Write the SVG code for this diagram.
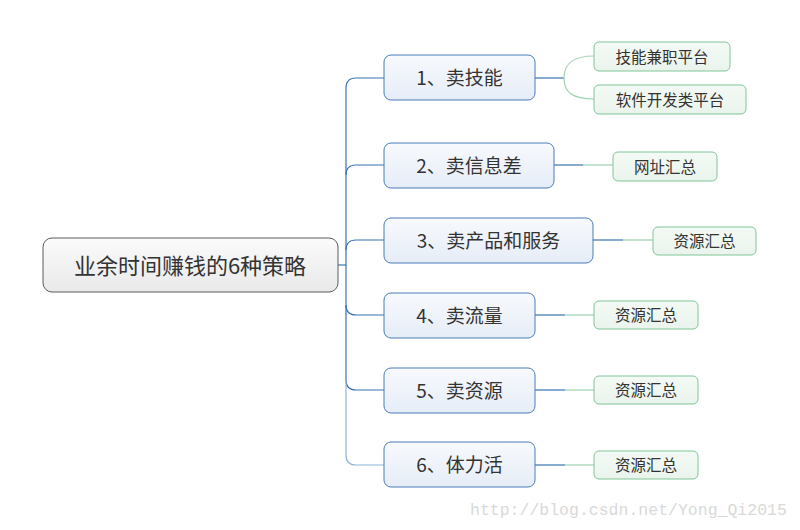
<svg xmlns="http://www.w3.org/2000/svg" width="800" height="530" viewBox="0 0 800 530">
<defs>
<linearGradient id="gRoot" x1="0" y1="0" x2="0" y2="1"><stop offset="0" stop-color="#fbfbfb"/><stop offset="1" stop-color="#e9e9e9"/></linearGradient>
<linearGradient id="gBr" x1="0" y1="0" x2="0" y2="1"><stop offset="0" stop-color="#f7f9fd"/><stop offset="1" stop-color="#e6edf7"/></linearGradient>
<linearGradient id="gLf" x1="0" y1="0" x2="0" y2="1"><stop offset="0" stop-color="#f4faf5"/><stop offset="1" stop-color="#e9f4ec"/></linearGradient>
</defs>
<style>
text{font-family:"Microsoft YaHei","Noto Sans CJK SC","Noto Sans",sans-serif;fill:#333;text-anchor:middle;dominant-baseline:central}
.root rect{fill:url(#gRoot);stroke:#5a5a5a;stroke-width:1}
.root text{font-size:22px}
.br rect{fill:url(#gBr);stroke:#4a7dba;stroke-width:1}
.br text{font-size:19px}
.lf rect{fill:url(#gLf);stroke:#80c597;stroke-width:1}
.lf text{font-size:15.5px}
.cb{fill:none;stroke:#3a73b3;stroke-width:1.2}
.cbl{fill:none;stroke:#8fb3db;stroke-width:1.2}
.cg{fill:none;stroke:#9fd2b0;stroke-width:1.2}
.wm{font-family:"Liberation Mono","DejaVu Sans Mono",monospace;font-size:16.5px;fill:#d9d9d9;text-anchor:start;dominant-baseline:alphabetic}
</style>
<g id="connectors">
<path class="cb" d="M338,265 H346"/>
<path class="cb" d="M346,265 V88 Q346,78 356,78 H384"/>
<path class="cb" d="M346,175 Q346,165 356,165 H384"/>
<path class="cb" d="M346,250 Q346,240 356,240 H384"/>
<path class="cb" d="M346,265 V305 Q346,315 356,315 H384"/>
<path class="cb" d="M346,305 V380 Q346,390 356,390 H384"/>
<path class="cbl" d="M346,380 V455 Q346,465 356,465 H384"/>
<path class="cb" d="M535,78 H564"/>
<path class="cg" d="M564,78 C564,64 572,56 594,56"/>
<path class="cg" d="M564,78 C564,92 572,99 594,99"/>
<path class="cb" d="M554,165 H583"/><path class="cg" d="M583,165 H613"/>
<path class="cb" d="M593,240 H623"/><path class="cg" d="M623,240 H653"/>
<path class="cb" d="M535,315 H565"/><path class="cg" d="M565,315 H594"/>
<path class="cb" d="M535,390 H565"/><path class="cg" d="M565,390 H594"/>
<path class="cb" d="M535,465 H565"/><path class="cg" d="M565,465 H594"/>
</g>
<g id="root" class="root"><rect x="43" y="238" width="295" height="54" rx="9"/><text x="190" y="264">业余时间赚钱的6种策略</text></g>
<g id="b1" class="br"><rect x="384" y="55" width="151" height="45" rx="7"/><text x="459.5" y="76.5">1、卖技能</text></g>
<g id="b2" class="br"><rect x="384" y="143" width="170" height="45" rx="7"/><text x="469" y="164.5">2、卖信息差</text></g>
<g id="b3" class="br"><rect x="384" y="218" width="209" height="45" rx="7"/><text x="488.5" y="239.5">3、卖产品和服务</text></g>
<g id="b4" class="br"><rect x="384" y="293" width="151" height="45" rx="7"/><text x="459.5" y="314.5">4、卖流量</text></g>
<g id="b5" class="br"><rect x="384" y="368" width="151" height="45" rx="7"/><text x="459.5" y="389.5">5、卖资源</text></g>
<g id="b6" class="br"><rect x="384" y="442" width="151" height="45" rx="7"/><text x="459.5" y="463.5">6、体力活</text></g>
<g id="l1a" class="lf"><rect x="594" y="42" width="136" height="29" rx="5"/><text x="662" y="55.5">技能兼职平台</text></g>
<g id="l1b" class="lf"><rect x="594" y="85" width="152" height="29" rx="5"/><text x="670" y="98.5">软件开发类平台</text></g>
<g id="l2" class="lf"><rect x="613" y="152" width="104" height="29" rx="5"/><text x="665" y="165.5">网址汇总</text></g>
<g id="l3" class="lf"><rect x="653" y="227" width="103" height="28" rx="5"/><text x="704.5" y="240">资源汇总</text></g>
<g id="l4" class="lf"><rect x="594" y="301" width="104" height="28" rx="5"/><text x="646" y="314">资源汇总</text></g>
<g id="l5" class="lf"><rect x="594" y="376" width="104" height="28" rx="5"/><text x="646" y="389">资源汇总</text></g>
<g id="l6" class="lf"><rect x="594" y="451" width="104" height="28" rx="5"/><text x="646" y="464">资源汇总</text></g>
<text class="wm" x="470" y="515">http://blog.csdn.net/Yong_Qi2015</text>
</svg>
